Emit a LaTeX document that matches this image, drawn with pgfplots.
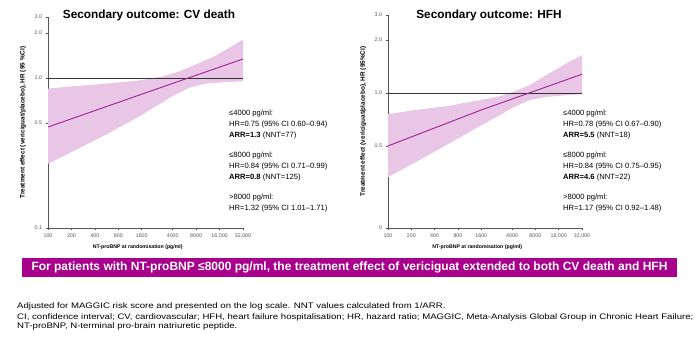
\documentclass[border=0pt]{standalone}
\usepackage{pgfplots}
\pgfplotsset{compat=1.18}
\usepackage{fontspec}
\setmainfont{Liberation Sans}
\newfontfamily\footfont[FakeStretch=1.2]{Liberation Sans}
\definecolor{mag}{HTML}{A8008C}
\definecolor{linec}{HTML}{9E1F98}
\definecolor{band}{HTML}{EAC6E6}
\definecolor{axc}{HTML}{555555}

\begin{document}
\begin{tikzpicture}
\useasboundingbox (0pt,0pt) rectangle (695pt,346pt);

% Left: CV death
\begin{axis}[
  scale only axis,
  xmode=log, ymode=log,
  xmin=100, xmax=32000,
  axis x line*=bottom, axis y line*=left,
  axis line style={axc, -},
  tick align=outside,
  tick style={axc, line width=0.5pt},
  major tick length=2.5pt,
  minor xtick={}, minor ytick={},
  xtick={100,200,400,800,1600,4000,8000,16000,32000},
  xticklabels={100,200,400,800,1600,4000,8000,{16,000},{32,000}},
  ticklabel style={font=\fontsize{5.3}{6}\selectfont, text=axc},
  /pgf/number format/assume math mode=true,
  xlabel={NT-proBNP at randomisation (pg/ml)},
  xlabel style={font=\bfseries\fontsize{5.2}{6}\selectfont, at={(axis description cs:0.46,0)}, anchor=center, yshift=-19pt},
  ylabel style={font=\bfseries\fontsize{6.4}{7}\selectfont, at={(axis description cs:-0.128,0.5)}, anchor=center},
  at={(48pt,118pt)}, anchor=south west,
  width=195pt, height=211pt,
  ymin=0.1, ymax=2.55,
  ytick={0.1,0.5,1,2,2.55},
  yticklabels={0.1,0.5,1.0,2.0,3.0},
  ylabel={Treatment effect (vericiguat/placebo), HR (95 \%CI)},
]
\addplot[fill=band, draw=none] coordinates {
 (100,0.85) (208,0.88) (558,0.916) (1493,0.964) (2986,1.025) (4850,1.107) (7880,1.227) (14300,1.41) (32000,1.8)
 (32000,0.95) (16900,0.935) (10400,0.916) (6400,0.858) (3940,0.754) (2425,0.647) (1493,0.555) (558,0.42) (208,0.324) (100,0.268)
} -- cycle;
\addplot[black!80, line width=0.6pt] coordinates {(100,1) (32000,1)};
\addplot[linec, line width=0.9pt] coordinates {(100,0.471) (1600,0.78) (32000,1.339)};
\end{axis}

% Right: HFH
\begin{axis}[
  scale only axis,
  xmode=log, ymode=log,
  xmin=100, xmax=32000,
  axis x line*=bottom, axis y line*=left,
  axis line style={axc, -},
  tick align=outside,
  tick style={axc, line width=0.5pt},
  major tick length=2.5pt,
  minor xtick={}, minor ytick={},
  xtick={100,200,400,800,1600,4000,8000,16000,32000},
  xticklabels={100,200,400,800,1600,4000,8000,{16,000},{32,000}},
  ticklabel style={font=\fontsize{5.3}{6}\selectfont, text=axc},
  /pgf/number format/assume math mode=true,
  xlabel={NT-proBNP at randomisation (pg/ml)},
  xlabel style={font=\bfseries\fontsize{5.2}{6}\selectfont, at={(axis description cs:0.46,0)}, anchor=center, yshift=-19pt},
  ylabel style={font=\bfseries\fontsize{6.4}{7}\selectfont, at={(axis description cs:-0.128,0.5)}, anchor=center},
  at={(388pt,118pt)}, anchor=south west,
  width=194pt, height=213pt,
  ymin=0.171, ymax=2.77,
  ytick={0.171,0.5,1,2,2.77},
  yticklabels={0,0.5,1.0,2.0,3.0},
  ylabel={Treatment effect (vericiguat/placebo), HR (95\%CI)},
]
\addplot[fill=band, draw=none] coordinates {
 (100,0.757) (211,0.797) (566,0.84) (1524,0.91) (2766,0.957) (4107,1.013) (6717,1.106) (10990,1.26) (19950,1.47) (32000,1.64)
 (32000,0.984) (19950,0.97) (10990,0.949) (6717,0.909) (4107,0.826) (2766,0.747) (1524,0.647) (566,0.505) (211,0.397) (100,0.333)
} -- cycle;
\addplot[black!80, line width=0.6pt] coordinates {(100,1) (32000,1)};
\addplot[linec, line width=0.9pt] coordinates {(100,0.5) (1600,0.80) (32000,1.277)};
\end{axis}

\begin{scope}[x=1pt,y=1pt]
% Titles
\node[font=\bfseries\fontsize{11.8}{13}\selectfont] at (149,331) {Secondary outcome: CV death};
\node[font=\bfseries\fontsize{11.8}{13}\selectfont] at (489,331) {Secondary outcome: HFH};

% Annotations
\begin{scope}[every node/.style={anchor=base west, inner sep=0pt, font=\fontsize{7.6}{9}\selectfont}]
\node at (229,346-115) {≤4000 pg/ml:};
\node at (229,346-126) {HR=0.75 (95\% CI 0.60–0.94)};
\node at (229,346-137) {\textbf{ARR=1.3} (NNT=77)};
\node at (229,346-157) {≤8000 pg/ml:};
\node at (229,346-168) {HR=0.84 (95\% CI 0.71–0.99)};
\node at (229,346-179) {\textbf{ARR=0.8} (NNT=125)};
\node at (229,346-199) {>8000 pg/ml:};
\node at (229,346-210) {HR=1.32 (95\% CI 1.01–1.71)};
\node at (563,346-115) {≤4000 pg/ml:};
\node at (563,346-126) {HR=0.78 (95\% CI 0.67–0.90)};
\node at (563,346-137) {\textbf{ARR=5.5} (NNT=18)};
\node at (563,346-157) {≤8000 pg/ml:};
\node at (563,346-168) {HR=0.84 (95\% CI 0.75–0.95)};
\node at (563,346-179) {\textbf{ARR=4.6} (NNT=22)};
\node at (563,346-199) {>8000 pg/ml:};
\node at (563,346-210) {HR=1.17 (95\% CI 0.92–1.48)};
\end{scope}

% Banner
\fill[mag] (22,346-277) rectangle (677,346-258);
\node[text=white, font=\bfseries\fontsize{12}{13}\selectfont] at (349.5,346-267.5) {For patients with NT-proBNP ≤8000 pg/ml, the treatment effect of vericiguat extended to both CV death and HFH};

% Footer
\begin{scope}[every node/.style={anchor=base west, inner sep=0pt, font=\footfont\fontsize{8}{9}\selectfont}]
\node at (17,346-308) {Adjusted for MAGGIC risk score and presented on the log scale. NNT values calculated from 1/ARR.};
\node at (17,346-319.5) {CI, confidence interval; CV, cardiovascular; HFH, heart failure hospitalisation; HR, hazard ratio; MAGGIC, Meta-Analysis Global Group in Chronic Heart Failure;};
\node at (17,346-328.5) {NT-proBNP, N-terminal pro-brain natriuretic peptide.};
\end{scope}
\end{scope}
\end{tikzpicture}
\end{document}
